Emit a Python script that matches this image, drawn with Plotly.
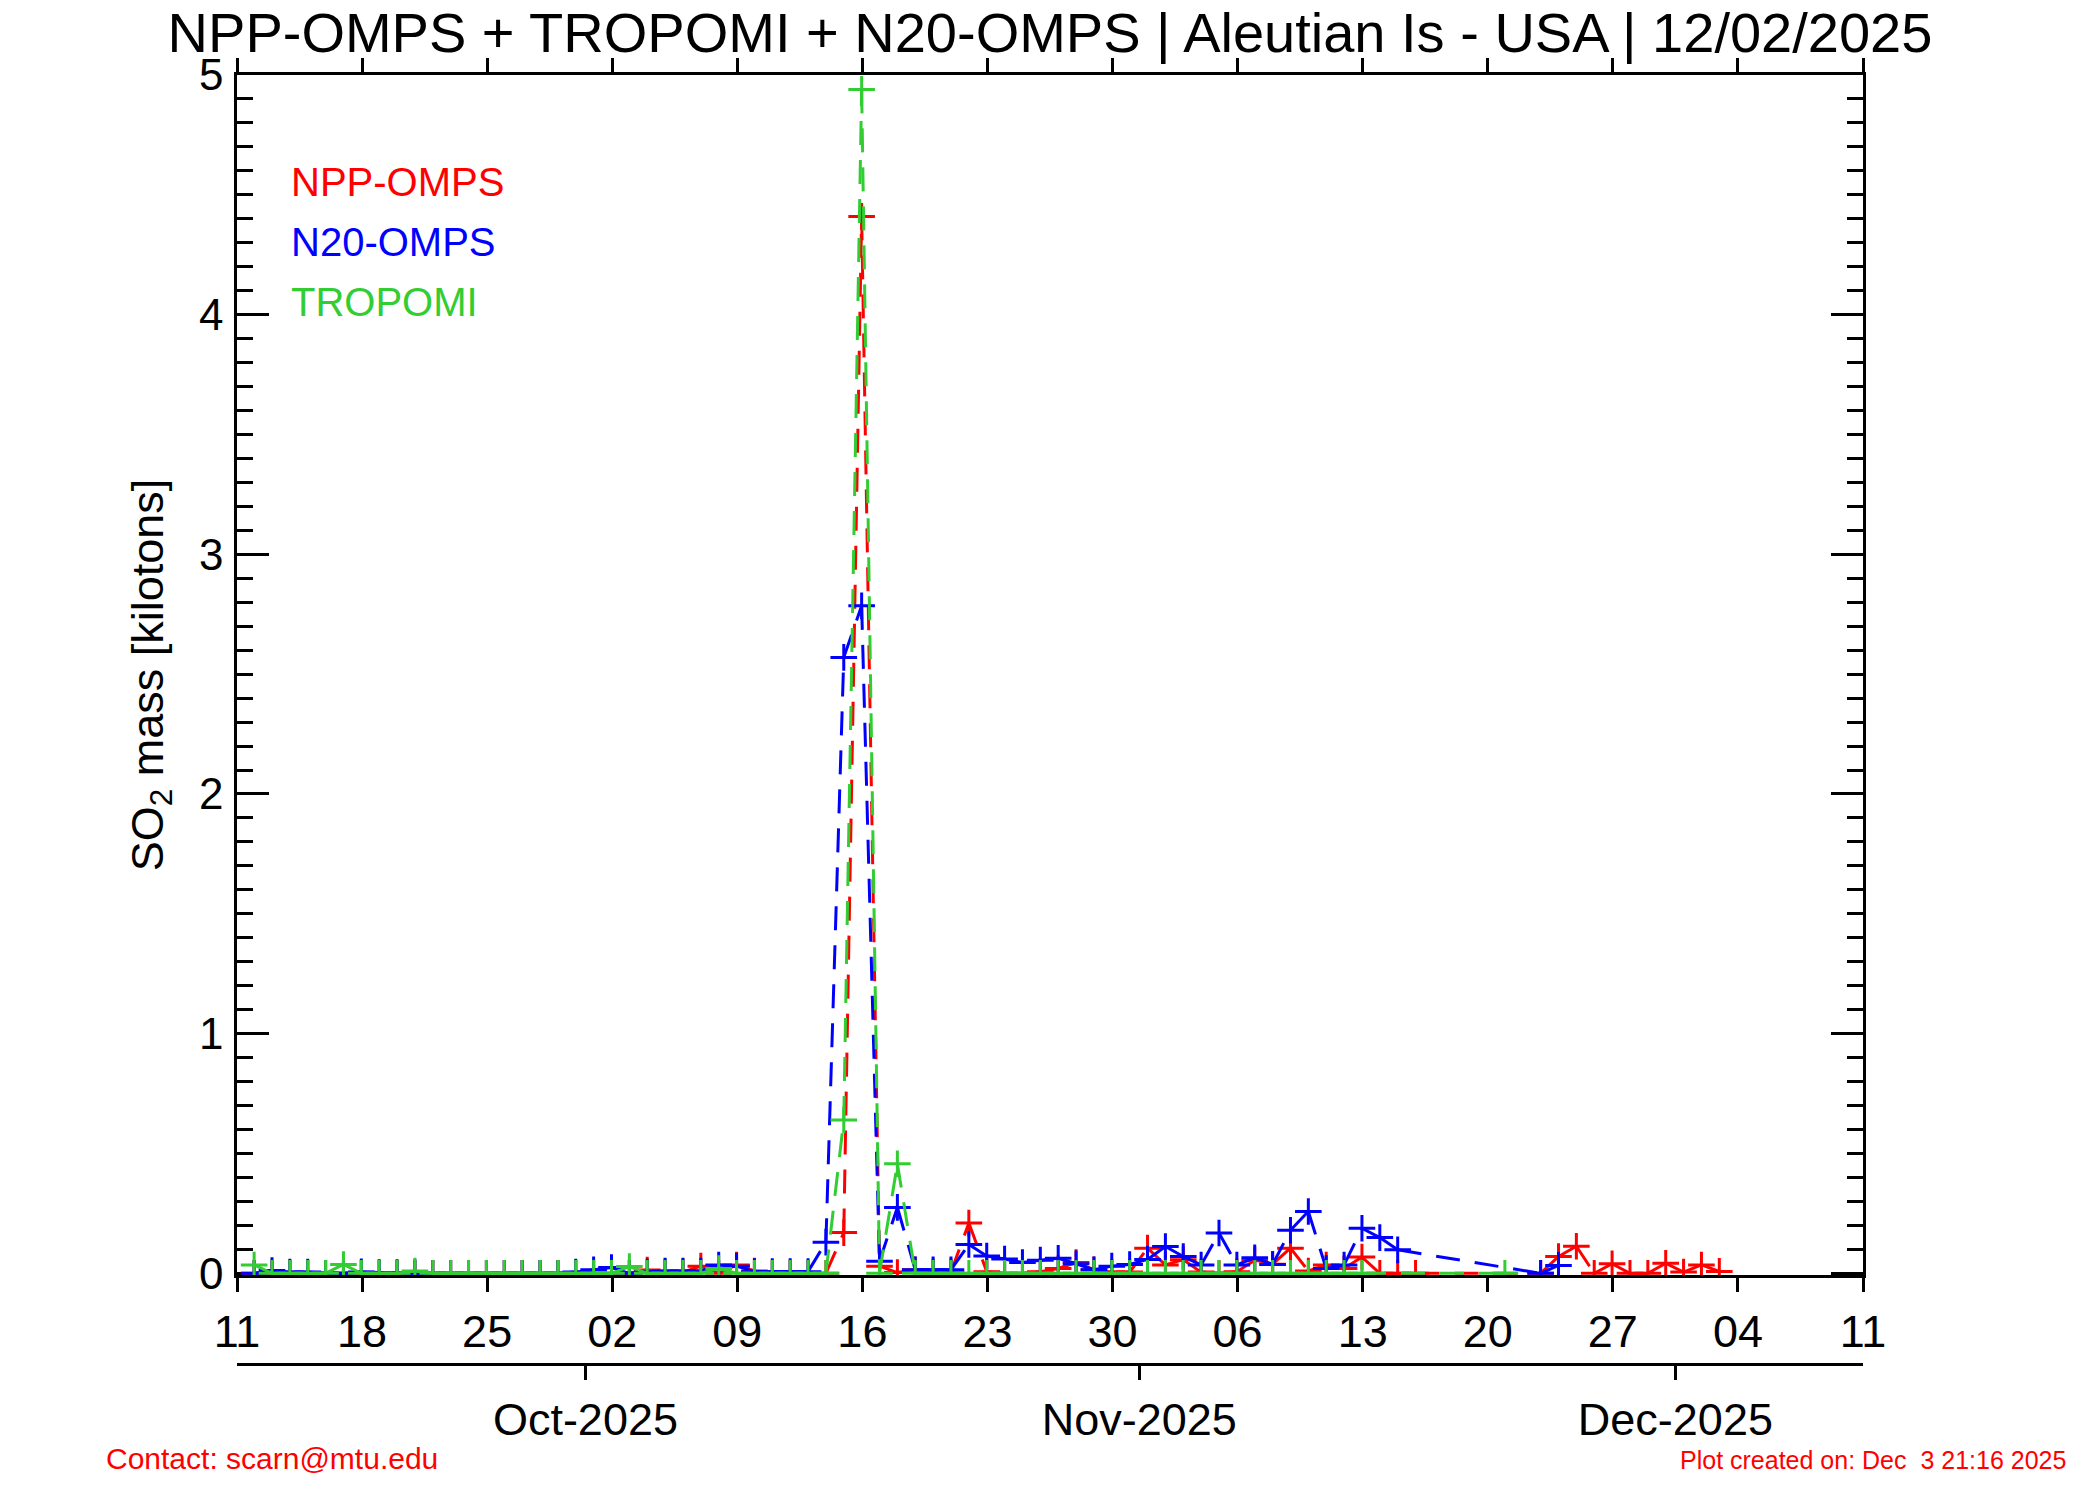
import pandas as pd
import plotly.graph_objects as go

# ---------------- data ----------------
# one overpass per day (~23 UTC), starting 2025-09-11
obs_start = "2025-09-11 23:00"
n_days = 83

npp_omps = [0, 0, 0, 0, 0, 0, 0, 0, 0,
            0.003,
            0, 0, 0, 0, 0, 0, 0, 0, 0, 0, 0, 0,
            0.014, 0.005, 0.005, 0.03, 0.0, 0.035, 0.01, 0, 0, 0, 0,
            0.17, 4.41, 0.03, 0.003, 0.015, 0.005, 0.005, 0.21, 0.007, 0.0,
            0.0, 0.007, 0.02, 0.045, 0.015, 0.005, 0.005, 0.105, 0.035, 0.057,
            0.005, 0.0, 0.007, 0.055, 0.038, 0.105, 0.01, 0.035, 0.02, 0.068,
            0.0, 0.0, 0.0,
            None, None, None, None, None, None,
            0.0, 0.07, 0.113, 0.0, 0.04, 0.0, 0.0, 0.042, 0.005, 0.035, 0.008]

n20_omps = [0.0, 0.012, 0.005, 0.005, 0.0, 0.0, 0.006, 0.003, 0.003,
            0, 0, 0, 0, 0, 0, 0, 0, 0,
            0.005, 0.015, 0.024, 0.0, 0.005, 0.01, 0.01, 0.01, 0.035, 0.03,
            0.007, 0.007, 0.007, 0.007,
            0.13, 2.57, 2.785, 0.05, 0.275, 0.015, 0.015, 0.015, 0.12, 0.072,
            0.06, 0.045, 0.055, 0.063, 0.04, 0.015, 0.03, 0.037, 0.058, 0.112,
            0.07, 0.035, 0.168, 0.035, 0.065, 0.037, 0.18, 0.258, 0.02, 0.035,
            0.188, 0.149, 0.098,
            None, None, None, None, None, None, None,
            0.0, 0.033,
            None, None, None, None, None, None, None, None, None]

tropomi = [0.035, 0, 0, 0, 0, 0.037, 0, 0, 0, 0.01,
           0, 0, 0, 0, 0, 0, 0, 0, 0, 0, 0,
           0.028, 0, 0, 0, 0, 0.02, 0, 0, 0, 0, 0, 0,
           0.64, 4.94, 0.0, 0.457,
           0, 0, 0, 0, 0, 0, 0, 0, 0, 0, 0, 0, 0,
           0, 0, 0, 0, 0, 0, 0, 0, 0, 0, 0, 0, 0,
           None, None, None, None, None, None, None,
           0.0,
           None, None, None, None, None, None, None, None, None, None, None, None]

series_names = ["NPP-OMPS", "N20-OMPS", "TROPOMI"]
series_colors = ["#ff0000", "#0000ff", "#32cd32"]

x_range = ["2025-09-11", "2025-12-11"]
month_ticks = ["2025-09-30 12:00", "2025-10-31 12:00", "2025-11-30 12:00"]
month_labels = ["Oct-2025", "Nov-2025", "Dec-2025"]

title_text = "NPP-OMPS + TROPOMI + N20-OMPS | Aleutian Is - USA | 12/02/2025"
ytitle = "SO<sub>2</sub> mass [kilotons]"
contact_text = "Contact: scarn@mtu.edu"
created_text = "Plot created on: Dec\u00a0 3 21:16 2025"

# ---------------- figure ----------------
obs_dates = [d.strftime("%Y-%m-%d %H:%M") for d in pd.date_range(obs_start, periods=n_days, freq="D")]

FONT = "Liberation Sans, Arial, Helvetica, sans-serif"
W, H = 2100, 1500
L, R, T, B = 236.6, 236.8, 75, 136
plot_bottom_px = 1275
paper_h = H - T - B


def segs(xs, ys):
    pts = [(x, y) for x, y in zip(xs, ys) if y is not None]
    sx, sy = [], []
    for (x0, y0), (x1, y1) in zip(pts[:-1], pts[1:]):
        sx += [x0, x1, None]
        sy += [y0, y1, None]
    return sx, sy


fig = go.Figure()
for name, vals, col in zip(series_names, [npp_omps, n20_omps, tropomi], series_colors):
    sx, sy = segs(obs_dates, vals)
    fig.add_trace(go.Scatter(x=sx, y=sy, mode="lines", name=name,
                             line=dict(color=col, width=3, dash="24px,15px"),
                             connectgaps=False, hoverinfo="skip", showlegend=False))
    fig.add_trace(go.Scatter(x=obs_dates, y=vals, mode="markers", name=name,
                             marker=dict(symbol="cross-thin", size=19, color=col,
                                         line=dict(color=col, width=3)),
                             showlegend=False))

# dummy trace to carry the month axis
fig.add_trace(go.Scatter(x=month_ticks, y=[0] * len(month_ticks), xaxis="x2",
                         mode="markers", marker=dict(opacity=0), showlegend=False,
                         hoverinfo="skip"))

ann = []
leg_y = [182, 242, 302]
for name, col, yy in zip(series_names, series_colors, leg_y):
    ann.append(dict(text=name, xref="paper", yref="paper",
                    x=(289 - L) / (W - L - R), y=(H - B - yy) / paper_h,
                    xanchor="left", yanchor="middle", showarrow=False,
                    font=dict(size=40, color=col, family=FONT)))
ann.append(dict(text=contact_text, xref="paper", yref="paper",
                x=(104 - L) / (W - L - R), y=(H - B - 1458) / paper_h,
                xanchor="left", yanchor="middle", showarrow=False,
                font=dict(size=30, color="#ff0000", family=FONT)))
ann.append(dict(text=created_text, xref="paper", yref="paper",
                x=(2068 - L) / (W - L - R), y=(H - B - 1460) / paper_h,
                xanchor="right", yanchor="middle", showarrow=False,
                font=dict(size=25, color="#ff0000", family=FONT)))

axis_common = dict(showline=True, linewidth=2.5, linecolor="black",
                   tickcolor="black", tickwidth=2.5, showgrid=False, zeroline=False)

fig.update_layout(
    width=W, height=H,
    margin=dict(l=L, r=R, t=T, b=B, autoexpand=False),
    paper_bgcolor="white", plot_bgcolor="white",
    font=dict(family=FONT, color="black"),
    showlegend=False,
    title=dict(text=title_text, x=0.5, xref="paper", xanchor="center",
               y=1 - 32 / H, yanchor="middle", font=dict(size=56, color="black", family=FONT)),
    xaxis=dict(type="date", range=x_range, tick0="2025-09-11", dtick=7 * 86400000,
               tickformat="%d", ticks="outside", ticklen=14, mirror="ticks",
               ticklabelstandoff=1, layer="below traces", anchor="y",
               tickfont=dict(size=45, color="black", family=FONT), **axis_common),
    xaxis2=dict(type="date", overlaying="x", anchor="free", position=0, side="bottom",
                range=x_range, tickmode="array", tickvals=month_ticks, ticktext=month_labels,
                ticks="outside", ticklen=14, ticklabelstandoff=1,
                tickfont=dict(size=45, color="black", family=FONT), **axis_common),
    yaxis=dict(range=[-0.007, 5], domain=[(H - B - plot_bottom_px) / paper_h, 1],
               tick0=0, dtick=1, ticks="inside", ticklen=32, mirror="ticks",
               ticklabelstandoff=2, layer="below traces",
               tickfont=dict(size=44, color="black", family=FONT),
               minor=dict(dtick=0.1, ticks="inside", ticklen=16, tickwidth=2.5, tickcolor="black"),
               title=dict(text=ytitle, font=dict(size=45, color="black", family=FONT), standoff=22),
               **axis_common),
    annotations=ann,
)

fig.write_html("out.html", config={"displayModeBar": False},
               post_script="document.body.style.margin='0px';")
